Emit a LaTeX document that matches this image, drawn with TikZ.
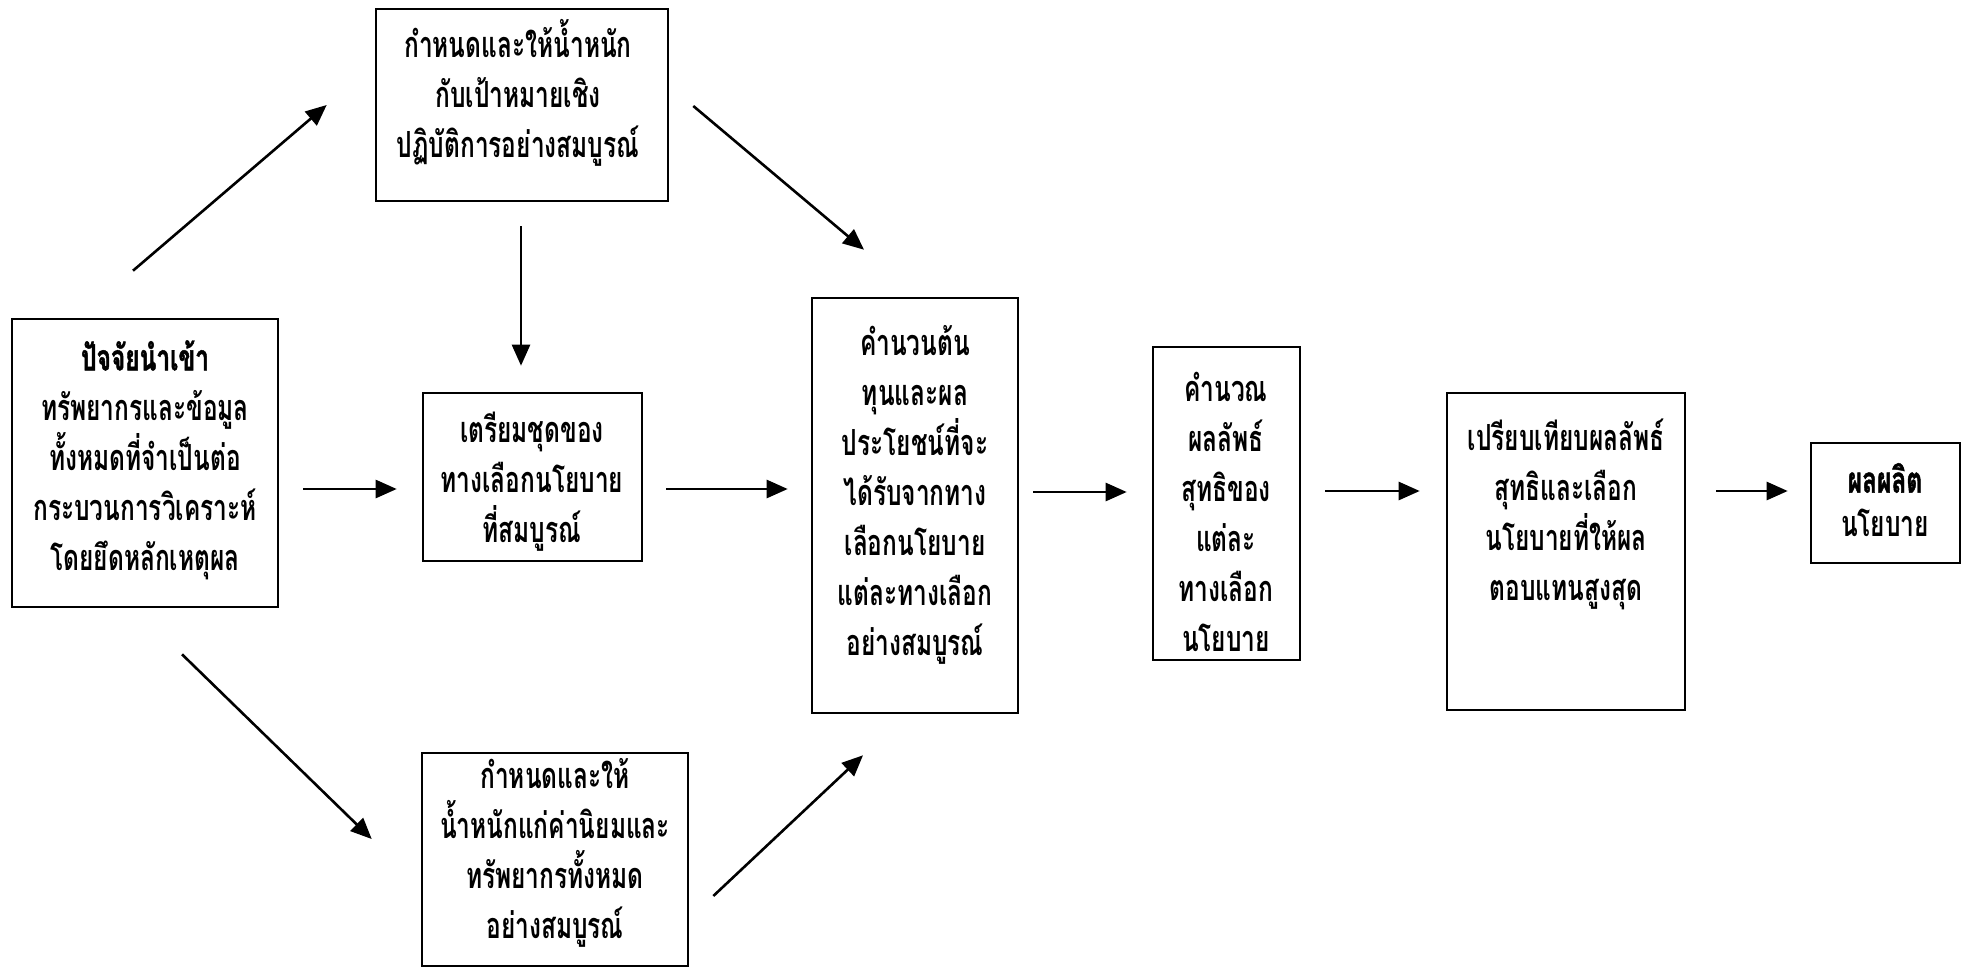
\documentclass[tikz,border=0pt]{standalone}
\usepackage{fontspec}
\newfontfamily\thaifont[Script=Thai,FakeStretch=0.68]{Loma Bold}
\newfontfamily\thaiheavy[Script=Thai,FakeStretch=0.68,FakeBold=1.2]{Loma Bold}
\usetikzlibrary{arrows.meta,calc}
\begin{document}
\begin{tikzpicture}[x=1pt,y=-1pt,
  box/.style={draw,line width=2.6pt,inner sep=0pt,minimum width=#1},
  txt/.style={align=center,inner sep=0pt,font=\thaifont\fontsize{36}{50}\selectfont},
  arr/.style={line width=2.6pt,-{Triangle[length=21pt,width=18pt]}}]
\useasboundingbox (0,0) rectangle (1970,969);
% boxes
\node[box=266pt,minimum height=288pt] (in)  at (145,463) {};
\node[box=292pt,minimum height=192pt] (top) at (522,105) {};
\node[box=219pt,minimum height=168pt] (prep) at (532.5,477) {};
\node[box=206pt,minimum height=415pt] (cost) at (915,505.5) {};
\node[box=147pt,minimum height=313pt] (net) at (1226.5,503.5) {};
\node[box=238pt,minimum height=317pt] (cmp) at (1566,551.5) {};
\node[box=149pt,minimum height=120pt] (out) at (1885.5,503) {};
\node[box=266pt,minimum height=213pt] (bot) at (555,859.5) {};
% texts
\node[txt] (tin) at (145,460) {{\thaiheavy ปัจจัยนำเข้า}\\ทรัพยากรและข้อมูล\\ทั้งหมดที่จำเป็นต่อ\\กระบวนการวิเคราะห์\\โดยยึดหลักเหตุผล};
\node[txt] (ttop) at (518,93) {กำหนดและให้น้ำหนัก\\กับเป้าหมายเชิง\\ปฏิบัติการอย่างสมบูรณ์};
\node[txt] (tprep) at (532,482) {เตรียมชุดของ\\ทางเลือกนโยบาย\\ที่สมบูรณ์};
\node[txt] (tcost) at (915,495) {คำนวนต้น\\ทุนและผล\\ประโยชน์ที่จะ\\ได้รับจากทาง\\เลือกนโยบาย\\แต่ละทางเลือก\\อย่างสมบูรณ์};
\node[txt] (tnet) at (1226,512) {คำนวณ\\ผลลัพธ์\\สุทธิของ\\แต่ละ\\ทางเลือก\\นโยบาย};
\node[txt] (tcmp) at (1566,514) {เปรียบเทียบผลลัพธ์\\สุทธิและเลือก\\นโยบายที่ให้ผล\\ตอบแทนสูงสุด};
\node[txt,font=\thaifont\fontsize{36}{44}\selectfont] (tout) at (1885,500) {{\thaiheavy ผลผลิต}\\นโยบาย};
\node[txt] (tbot) at (555,853) {กำหนดและให้\\น้ำหนักแก่ค่านิยมและ\\ทรัพยากรทั้งหมด\\อย่างสมบูรณ์};
% arrows
\draw[arr] ($(in.north)+(-12,-47)$) -- ($(top.west)+(-48,0)$);
\draw[arr] ($(top.east)+(24,1)$) -- ($(cost.north)+(-51,-47)$);
\draw[arr] ($(top.south)+(-1,24)$) -- ($(prep.north)+(-11.5,-26)$);
\draw[arr] ($(in.east)+(24,26)$) -- ($(prep.west)+(-25,12)$);
\draw[arr] ($(prep.east)+(23,12)$) -- ($(cost.west)+(-23,-16.5)$);
\draw[arr] ($(cost.east)+(14,-13.5)$) -- ($(net.west)+(-25,-11.5)$);
\draw[arr] ($(net.east)+(24,-12.5)$) -- ($(cmp.west)+(-26,-60.5)$);
\draw[arr] ($(cmp.east)+(30,-60.5)$) -- ($(out.west)+(-22,-12)$);
\draw[arr] ($(in.south)+(37,46)$) -- ($(bot.west)+(-49,-20.5)$);
\draw[arr] ($(bot.east)+(24,36.5)$) -- ($(cost.south)+(-52,41)$);
\end{tikzpicture}
\end{document}
